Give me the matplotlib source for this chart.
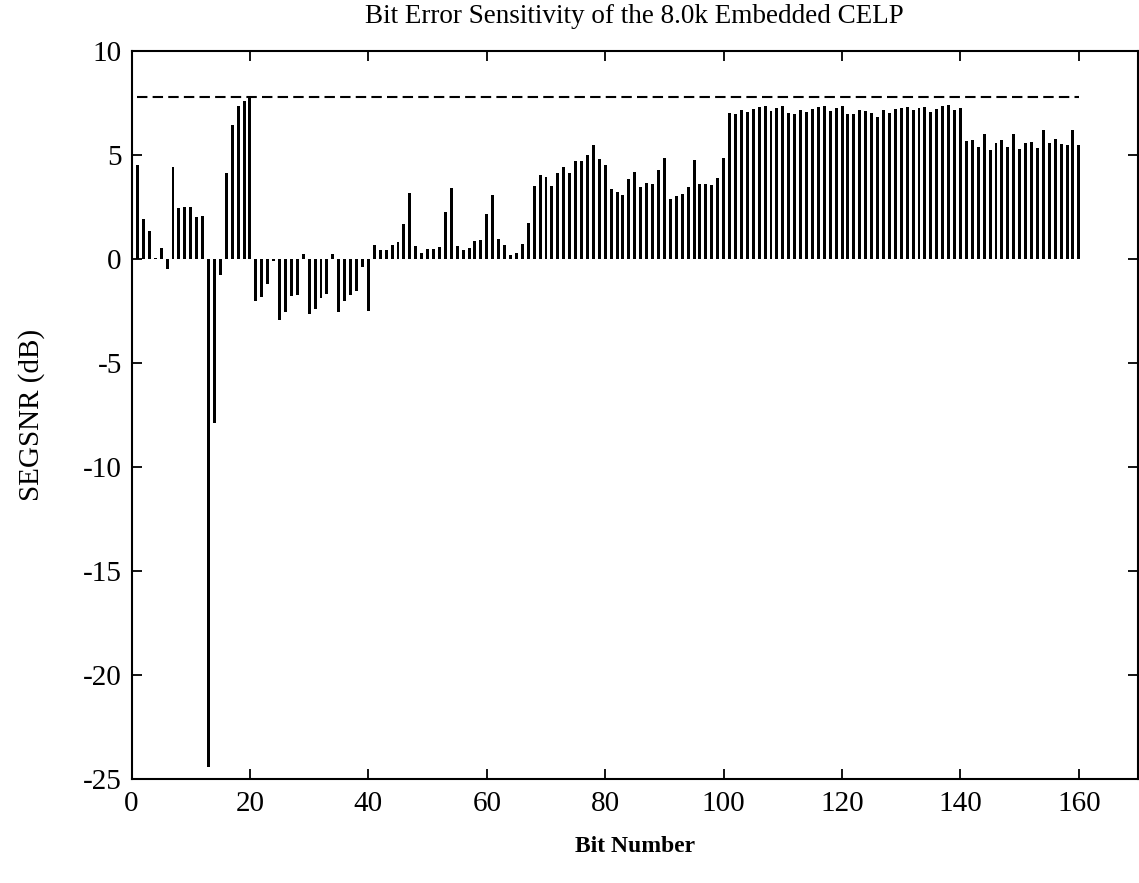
import numpy as np
import matplotlib
matplotlib.use('Agg')
import matplotlib.pyplot as plt

# SEGSNR (dB) with one bit in error, bits 1..160
bits = np.arange(1, 161)
segsnr = [
    4.54, 1.92, 1.33, 0.05, 0.53, -0.48, 4.44, 2.44, 2.49, 2.52,
    2.00, 2.08, -24.4, -7.9, -0.79, 4.13, 6.46, 7.35, 7.62, 7.75,
    -2.04, -1.85, -1.20, -0.10, -2.94, -2.57, -1.77, -1.72, 0.24, -2.65,
    -2.38, -1.88, -1.68, 0.24, -2.57, -2.00, -1.72, -1.52, -0.40, -2.49,
    0.67, 0.45, 0.45, 0.67, 0.84, 1.67, 3.18, 0.64, 0.29, 0.48,
    0.48, 0.58, 2.28, 3.41, 0.61, 0.41, 0.51, 0.87, 0.90, 2.15,
    3.08, 0.97, 0.67, 0.20, 0.29, 0.71, 1.74, 3.49, 4.02, 3.95,
    3.49, 4.15, 4.43, 4.15, 4.69, 4.72, 5.00, 5.46, 4.79, 4.53,
    3.37, 3.21, 3.08, 3.85, 4.20, 3.46, 3.64, 3.59, 4.27, 4.88,
    2.87, 3.02, 3.15, 3.46, 4.75, 3.62, 3.62, 3.56, 3.88, 4.88,
    7.00, 6.97, 7.18, 7.06, 7.20, 7.33, 7.36, 7.13, 7.25, 7.38,
    7.00, 6.95, 7.16, 7.06, 7.19, 7.31, 7.38, 7.13, 7.25, 7.36,
    6.97, 6.97, 7.16, 7.11, 7.03, 6.82, 7.18, 7.03, 7.20, 7.27,
    7.33, 7.15, 7.28, 7.31, 7.08, 7.20, 7.38, 7.40, 7.15, 7.27,
    5.67, 5.72, 5.38, 5.99, 5.25, 5.57, 5.72, 5.41, 6.02, 5.28,
    5.60, 5.64, 5.34, 6.21, 5.57, 5.79, 5.51, 5.47, 6.21, 5.47,
]
error_free = 7.78  # dashed reference level

plt.rcParams['font.family'] = ['Liberation Serif', 'DejaVu Serif']
plt.rcParams['axes.unicode_minus'] = False

fig = plt.figure(figsize=(11.39, 8.83), dpi=100)
ax = fig.add_axes([0.1155, 0.1178, 0.8837, 0.8244])

ax.bar(bits, segsnr, width=0.5, color='black', linewidth=0)
ax.plot([bits[0], bits[-1]], [error_free, error_free], color='black',
        linestyle='--', linewidth=1.5, dashes=(5, 2.5))

ax.set_xlim(0, 170)
ax.set_ylim(-25, 10)
ax.set_xticks(range(0, 161, 20))
ax.set_yticks(range(-25, 11, 5))
ax.tick_params(direction='in', top=True, right=True, length=7, width=1.3,
               labelsize=21)
ax.tick_params(axis='x', pad=9)
ax.tick_params(axis='y', pad=7)
for s in ax.spines.values():
    s.set_linewidth(1.5)

ax.set_title('Bit Error Sensitivity of the 8.0k Embedded CELP', fontsize=19.5, pad=20)
ax.set_xlabel('Bit Number', fontsize=17, fontweight='bold', labelpad=13)
ax.set_ylabel('SEGSNR (dB)', fontsize=21, labelpad=27)

fig.savefig('out.png', dpi=100)
